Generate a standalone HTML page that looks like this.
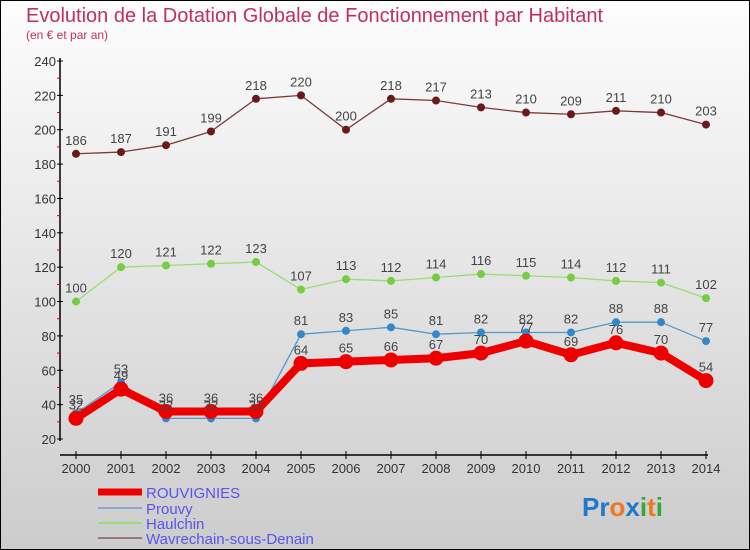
<!DOCTYPE html>
<html><head><meta charset="utf-8"><style>
body{margin:0;}
#c{width:750px;height:550px;position:relative;overflow:hidden;}
svg text{font-family:"Liberation Sans","DejaVu Sans",sans-serif;}
</style></head><body>
<div id="c">
<svg id="s" width="750" height="550" xmlns="http://www.w3.org/2000/svg">
<defs><linearGradient id="bg" x1="0" y1="0" x2="0" y2="1"><stop offset="0" stop-color="#fdfdfd"/><stop offset="1" stop-color="#cccccc"/></linearGradient></defs>
<rect x="0.5" y="0.5" width="749" height="549" fill="url(#bg)" stroke="#000"/>
<text x="26" y="22" font-size="20" fill="#c0305a">Evolution de la Dotation Globale de Fonctionnement par Habitant</text>
<text x="26" y="39" font-size="12" fill="#c0305a">(en € et par an)</text>
<g id="axes"></g><g id="series"></g><g id="labels"></g>
<g>
<line x1="98" y1="492" x2="142" y2="492" stroke="#e00" stroke-width="7"/>
<text x="146" y="498" font-size="15" fill="#5555ee">ROUVIGNIES</text>
<line x1="98" y1="508" x2="142" y2="508" stroke="#88aacc" stroke-width="2"/>
<text x="146" y="514" font-size="15" fill="#5555ee">Prouvy</text>
<line x1="98" y1="523" x2="142" y2="523" stroke="#99dd77" stroke-width="2"/>
<text x="146" y="529" font-size="15" fill="#5555ee">Haulchin</text>
<line x1="98" y1="538" x2="142" y2="538" stroke="#997777" stroke-width="2"/>
<text x="146" y="544" font-size="15" fill="#5555ee">Wavrechain-sous-Denain</text>
</g>
<text x="582" y="516" font-size="26" font-weight="bold"><tspan fill="#2277cc">Pr</tspan><tspan fill="#ee7722">o</tspan><tspan fill="#2277cc">x</tspan><tspan fill="#33aa33">i</tspan><tspan fill="#ee7722">t</tspan><tspan fill="#33aa33">i</tspan></text>
</svg></div>
<script>
const years=[2000,2001,2002,2003,2004,2005,2006,2007,2008,2009,2010,2011,2012,2013,2014];
const yTicks=[20,40,60,80,100,120,140,160,180,200,220,240];
const wavrechain=[186,187,191,199,218,220,200,218,217,213,210,209,211,210,203];
const haulchin=[100,120,121,122,123,107,113,112,114,116,115,114,112,111,102];
const prouvy=[35,53,32,32,32,81,83,85,81,82,82,82,88,88,77];
const rouvignies=[32,49,36,36,36,64,65,66,67,70,77,69,76,70,54];
const NS="http://www.w3.org/2000/svg";
function X(i){return 76+i*45;}
function Y(v){return 439-(v-20)*378/220;}
function mk(t,a,p){const e=document.createElementNS(NS,t);for(const k in a)e.setAttribute(k,a[k]);document.getElementById(p).appendChild(e);return e;}
let e=mk('line',{x1:60,y1:58,x2:60,y2:441,stroke:'#000','stroke-width':1.5},'axes');


e=mk('line',{x1:60,y1:455,x2:708,y2:455,stroke:'#000','stroke-width':1.5},'axes');


yTicks.forEach((v,i)=>{
  mk('line',{x1:57,y1:Y(v),x2:63,y2:Y(v),stroke:'#000'},'axes');
  if(i<yTicks.length-1)mk('line',{x1:57,y1:Y(v+10),x2:60,y2:Y(v+10),stroke:'#e00'},'axes');
  const t=mk('text',{x:56,y:Y(v)+5,'font-size':13,fill:'#333','text-anchor':'end'},'axes');
  t.textContent=v;
  
  
});
years.forEach((yr,i)=>{
  mk('line',{x1:X(i),y1:451,x2:X(i),y2:459,stroke:'#000'},'axes');
  const t=mk('text',{x:X(i),y:473,'font-size':13,fill:'#333','text-anchor':'middle'},'axes');
  t.textContent=yr;
  
  
});
function series(data,name,color,dot,w,r){
  const pts=data.map((v,i)=>X(i)+','+Y(v)).join(' ');
  const l=mk('polyline',{points:pts,fill:'none',stroke:color,'stroke-width':w,'stroke-linejoin':'round'},'series');
  
  
  data.forEach((v,i)=>{
    const c=mk('circle',{cx:X(i),cy:Y(v),r:r,fill:dot},'series');
    
    
    const t=mk('text',{x:X(i),y:Y(v)-9,'font-size':13,fill:'#444','text-anchor':'middle'},'labels');
    t.textContent=v;
    
    
  });
}
series(wavrechain,'wavrechain','#7a3b3b','#6b1a1a',1.3,4);
series(haulchin,'haulchin','#99dd77','#77cc44',1.3,4);
series(prouvy,'prouvy','#5599cc','#3388cc',1.3,4);
series(rouvignies,'rouvignies','#ee0000','#ee0000',8,7.5);
</script>
</body></html>
